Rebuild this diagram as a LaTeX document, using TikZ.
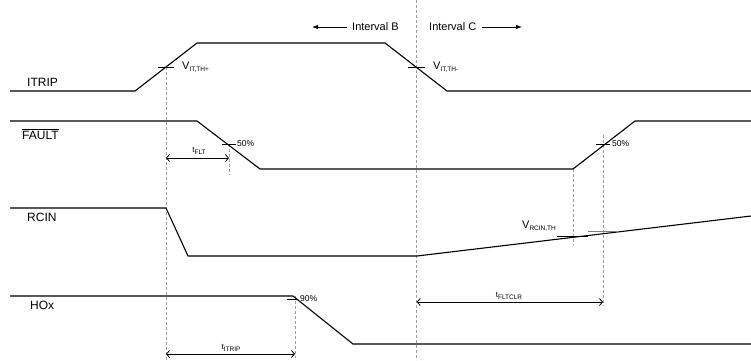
\documentclass[tikz,border=0pt]{standalone}
\usepackage{fontspec}
\setmainfont{Liberation Sans}
\usetikzlibrary{arrows.meta}
\newcommand{\lowtext}[1]{\raisebox{-0.35ex}{\fontsize{6.5}{7}\selectfont #1}}
\begin{document}
\begin{tikzpicture}[x=1pt,y=-1pt,
  sig/.style={line width=1.1pt, line join=miter},
  guide/.style={gray!75, line width=0.5pt, dash pattern=on 3pt off 2pt},
  tickmark/.style={line width=0.8pt},
  dim/.style={line width=0.8pt, {Straight Barb[length=3pt,width=7pt]}-{Straight Barb[length=3pt,width=7pt]}},
  lbl/.style={font=\fontsize{12}{14}\selectfont, inner sep=0pt, anchor=west},
  vlbl/.style={font=\fontsize{11}{13}\selectfont, inner sep=0pt, anchor=west},
  pct/.style={font=\fontsize{8.5}{10}\selectfont, inner sep=0pt, anchor=west},
  tlbl/.style={font=\fontsize{8}{9}\selectfont, inner sep=0pt},
  ilbl/.style={font=\fontsize{11}{13}\selectfont, inner sep=0pt, anchor=west},
  intarrow/.style={line width=0.8pt, -{Latex[length=6pt,width=4.5pt]}}
]
\useasboundingbox (0,0) rectangle (751,360);

% guide lines
\draw[guide] (166,67) -- (166,360);
\draw[guide] (416.7,0) -- (416.7,360);
\draw[guide] (229,144) -- (229,175);
\draw[guide] (573,169) -- (573,245);
\draw[guide] (603,135) -- (603,306);
\draw[guide] (295,296) -- (295,358);

% signals
\draw[sig] (10,91) -- (135,91) -- (197,43) -- (385,43) -- (447,91) -- (751,91);
\draw[sig] (10,121) -- (197,121) -- (260,169) -- (573,169) -- (635,121) -- (751,121);
\draw[sig] (10,208) -- (166,208) -- (188,256) -- (417,256) -- (751,216);
\draw[sig] (10,296) -- (293,296) -- (353,344) -- (751,344);

% signal names
\node[lbl] (itrip) at (27,82) {ITRIP};
\node[lbl] (fault) at (22,134) {$\overline{\mbox{FAULT}}$};
\node[lbl] (rcin) at (27,217) {RCIN};
\node[lbl] (hox) at (30,305) {HOx};

% threshold ticks
\draw[tickmark] (158,67) -- (174,67);
\draw[tickmark] (408,67) -- (425,67);
\draw[tickmark] (222,144) -- (236,144);
\draw[tickmark] (596,144) -- (610,144);
\draw[tickmark] (557,236.5) -- (588,236.5);
\draw[tickmark, gray] (588,231.5) -- (619,231.5);
\draw[tickmark] (287,299) -- (298,299);

% threshold labels
\node[vlbl] (vthp) at (182,67) {V\lowtext{IT,TH+}};
\node[vlbl] (vthm) at (433,67) {V\lowtext{IT,TH-}};
\node[pct] (p50a) at (237,144) {50\%};
\node[pct] (p50b) at (612,144) {50\%};
\node[vlbl] (vrcin) at (522,226) {V\lowtext{RCIN,TH}};
\node[pct] (p90) at (300,299) {90\%};

% dimension arrows
\coordinate (fltA) at (166,158);
\coordinate (fltB) at (229,158);
\draw[dim] (fltA) -- (fltB);
\node[tlbl] (tflt) at (199,151) {t\lowtext{FLT}};

\coordinate (clrA) at (416.7,302);
\coordinate (clrB) at (603,302);
\draw[dim] (clrA) -- (clrB);
\node[tlbl] (tclr) at (509,296) {t\lowtext{FLTCLR}};

\coordinate (trA) at (166,354);
\coordinate (trB) at (295,354);
\draw[dim] (trA) -- (trB);
\node[tlbl] (ttrip) at (231,348) {t\lowtext{ITRIP}};

% intervals
\node[ilbl] (intB) at (352,27) {Interval B};
\coordinate (bEnd) at (312,27);
\draw[intarrow] (intB.west) ++(-5,0) -- (bEnd);
\node[ilbl] (intC) at (429,27) {Interval C};
\coordinate (cEnd) at (522,27);
\draw[intarrow] (intC.east) ++(6,0) -- (cEnd);
\end{tikzpicture}
\end{document}
